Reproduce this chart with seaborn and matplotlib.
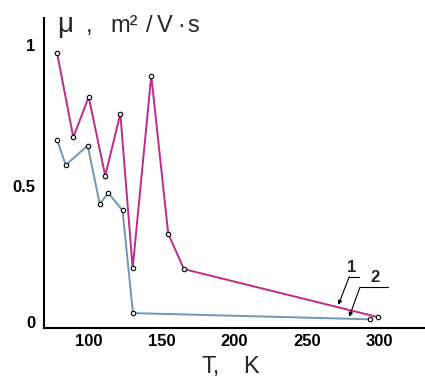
import matplotlib
matplotlib.use("Agg")
import matplotlib.pyplot as plt
import matplotlib.transforms as mtransforms
import seaborn as sns
import pandas as pd

# Curve 1 (magenta)
t1 = [78.0, 89.2, 99.8, 111.2, 121.6, 130.1, 142.9, 154.6, 165.4, 298.9]
mu1 = [0.974, 0.674, 0.817, 0.538, 0.758, 0.210, 0.893, 0.332, 0.207, 0.037]
# Curve 2 (blue)
t2 = [78.0, 84.0, 99.1, 107.4, 113.3, 123.1, 130.3, 293.8]
mu2 = [0.665, 0.576, 0.645, 0.438, 0.477, 0.415, 0.051, 0.029]

xticks = [100, 150, 200, 250, 300]
yticks = [0, 0.5, 1]
ytick_labels = ["0", "0.5", "1"]

sns.set_style("white")
plt.rcParams['font.family'] = ['Liberation Sans', 'DejaVu Sans']

W, H = 425, 382
fig = plt.figure(figsize=(W/100, H/100), dpi=100)
ax = fig.add_axes([43.7/W, 1-327.5/H, 1-43.7/W, (327.5-18)/H])

df1 = pd.DataFrame({"T": t1, "mu": mu1})
df2 = pd.DataFrame({"T": t2, "mu": mu2})
mk = dict(marker='o', markersize=3.2, markerfacecolor='white',
          markeredgecolor='black', markeredgewidth=0.8)
sns.lineplot(data=df2, x="T", y="mu", ax=ax, color='#6f96bb', lw=1.4,
             sort=False, **mk)
sns.lineplot(data=df1, x="T", y="mu", ax=ax, color='#c2298d', lw=1.4,
             sort=False, **mk)

ax.set_xlim(68.8, 331.5)
ax.set_ylim(0, 1.097)
ax.set_xticks(xticks)
ax.set_xticklabels([str(v) for v in xticks], fontweight='bold', fontsize=12)
ax.set_yticks(yticks)
ax.set_yticklabels(ytick_labels, fontweight='bold', fontsize=12)
ax.tick_params(direction='in', length=3, width=1, colors='black')
ax.tick_params(axis='x', pad=5)
ax.tick_params(axis='y', pad=6)
for s in ['top', 'right']:
    ax.spines[s].set_visible(False)
for s in ['left', 'bottom']:
    ax.spines[s].set_color('black')
    ax.spines[s].set_linewidth(1.5)
ax.set_xlabel("")
ax.set_ylabel("")

# nudge the "0" label upward as in the reference
lab0 = ax.get_yticklabels()[0]
lab0.set_transform(lab0.get_transform() +
                   mtransforms.ScaledTranslation(0, 5/100, fig.dpi_scale_trans))

# curve labels with leaders
ax.text(281.2, 0.211, "1", ha='center', va='center', fontweight='bold', fontsize=12)
ax.plot([279.3, 286.2], [0.180, 0.180], color='black', lw=0.8, clip_on=False)
ax.annotate('', xy=(271.8, 0.080), xytext=(279.3, 0.180),
            arrowprops=dict(arrowstyle='-|>', lw=0.8, color='black', mutation_scale=6,
                            shrinkA=0, shrinkB=0))
ax.text(297.0, 0.177, "2", ha='center', va='center', fontweight='bold', fontsize=12)
ax.plot([286.7, 306.2], [0.1426, 0.1426], color='black', lw=0.8, clip_on=False)
ax.annotate('', xy=(279.3, 0.038), xytext=(286.7, 0.1426),
            arrowprops=dict(arrowstyle='-|>', lw=0.8, color='black', mutation_scale=6,
                            shrinkA=0, shrinkB=0))

# y-axis title, laid out piecewise to match the wide spacing
ybase = 1 - 31.7/H
for txt, xpx, fs in [("μ", 57, 20), (",", 86, 17), ("m²", 110, 17),
                     ("/", 146, 17), ("V", 157, 17), ("·", 177, 17), ("s", 187, 17)]:
    fig.text(xpx/W, ybase, txt, fontsize=fs, va='baseline', ha='left')

# x-axis title
xbase = 1 - 373.3/H
fig.text(202/W, xbase, "T,", fontsize=17, va='baseline', ha='left')
fig.text(243/W, xbase, "K", fontsize=17, va='baseline', ha='left')

fig.savefig("out.png", dpi=100)
